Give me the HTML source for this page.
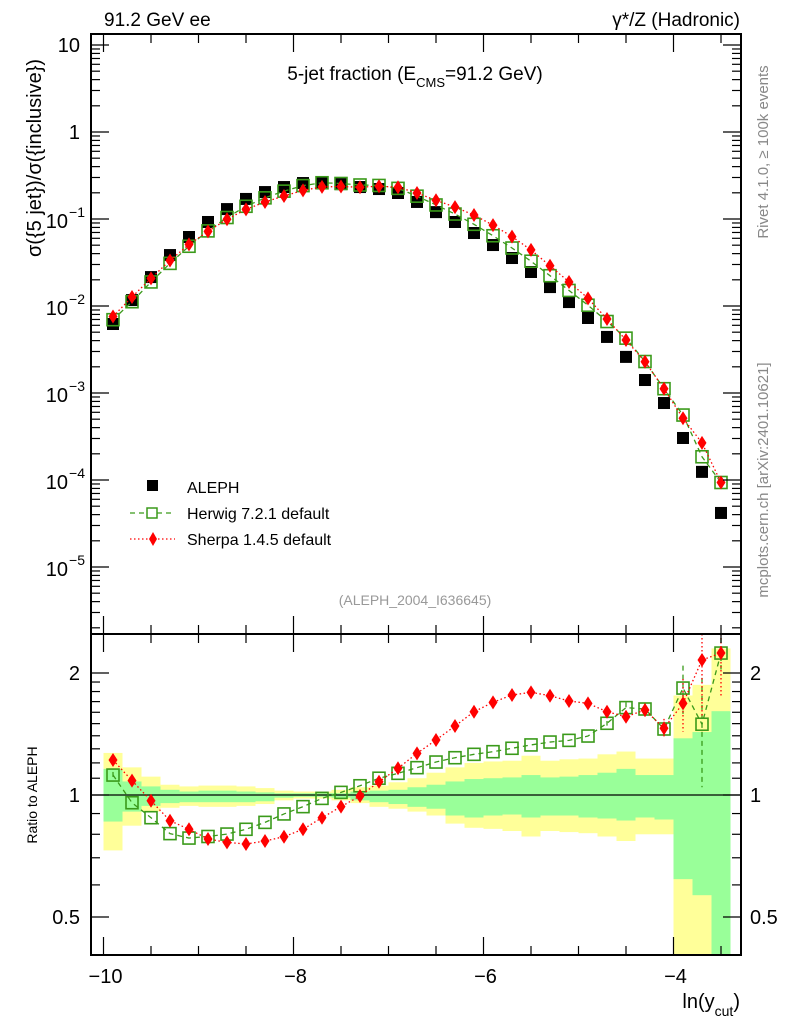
<!DOCTYPE html>
<html><head><meta charset="utf-8"><style>
body{margin:0;background:#fff}
svg{display:block;font-family:"Liberation Sans",sans-serif}
</style></head><body>
<svg id="c" width="786" height="1024" viewBox="0 0 786 1024" xmlns="http://www.w3.org/2000/svg">
<g id="bands"></g>
<g id="marks"></g>
<g id="axes"></g>
<text x="104" y="26" font-size="19">91.2 GeV ee</text>
<text x="740" y="26" font-size="19" text-anchor="end">γ*/Z (Hadronic)</text>
<text x="415" y="80" font-size="19" text-anchor="middle">5-jet fraction (E<tspan font-size="13" dy="7">CMS</tspan><tspan dy="-7">=91.2 GeV)</tspan></text>
<text transform="translate(41,158) rotate(-90)" font-size="20" text-anchor="middle">σ({5 jet})/σ({inclusive})</text>
<text transform="translate(37,795) rotate(-90)" font-size="14" text-anchor="middle">Ratio to ALEPH</text>
<text x="740" y="1008" font-size="20" text-anchor="end">ln(y<tspan font-size="14" dy="8">cut</tspan><tspan dy="-8">)</tspan></text>
<text transform="translate(768,152) rotate(-90)" font-size="15" fill="#888" text-anchor="middle">Rivet 4.1.0, ≥ 100k events</text>
<text transform="translate(768,480) rotate(-90)" font-size="15" fill="#888" text-anchor="middle">mcplots.cern.ch [arXiv:2401.10621]</text>
<text x="415" y="605" font-size="14" fill="#999" text-anchor="middle">(ALEPH_2004_I636645)</text>
<g>
<rect x="147" y="480" width="11" height="11" fill="#000"/>
<text x="187" y="493" font-size="16">ALEPH</text>
<line x1="130" y1="513" x2="175" y2="513" stroke="#3a9a1a" stroke-width="1.3" stroke-dasharray="5,4"/>
<rect x="147" y="508" width="10" height="10" fill="#fff" stroke="#3a9a1a" stroke-width="1.5"/>
<text x="187" y="519" font-size="16">Herwig 7.2.1 default</text>
<line x1="130" y1="539" x2="175" y2="539" stroke="#f00" stroke-width="1.3" stroke-dasharray="1.5,2.5"/>
<path d="M153 532 L157 539 L153 546 L149 539 Z" fill="#f00"/>
<text x="187" y="545" font-size="16">Sherpa 1.4.5 default</text>
</g>
</svg>
<script>
const xCenters=[-9.9,-9.7,-9.5,-9.3,-9.1,-8.9,-8.7,-8.5,-8.3,-8.1,-7.9,-7.7,-7.5,-7.3,-7.1,-6.9,-6.7,-6.5,-6.3,-6.1,-5.9,-5.7,-5.5,-5.3,-5.1,-4.9,-4.7,-4.5,-4.3,-4.1,-3.9,-3.7,-3.5];
const alephVals=[0.00621,0.0117,0.0215,0.0385,0.0621,0.0924,0.130,0.170,0.204,0.233,0.259,0.266,0.252,0.233,0.221,0.199,0.157,0.120,0.0924,0.069,0.0502,0.0356,0.0246,0.0165,0.0111,0.00728,0.00441,0.00260,0.00141,0.000767,0.000304,0.000124,0.0000418];
const herwigVals=[0.00696,0.0112,0.0189,0.0309,0.0486,0.0730,0.104,0.140,0.175,0.209,0.242,0.261,0.256,0.246,0.243,0.225,0.183,0.145,0.114,0.0869,0.0642,0.0464,0.0327,0.0223,0.0151,0.0102,0.00663,0.00427,0.0023,0.00112,0.000558,0.000185,0.0000936];
const sherpaVals=[0.00758,0.0127,0.0208,0.0333,0.0511,0.0720,0.0993,0.129,0.157,0.184,0.213,0.234,0.236,0.232,0.238,0.232,0.199,0.164,0.137,0.111,0.085,0.0628,0.0441,0.029,0.0189,0.01225,0.00708,0.00406,0.00229,0.00112,0.000512,0.000267,0.0000936];
const herwigRatio=[1.12,0.957,0.879,0.803,0.783,0.79,0.801,0.823,0.856,0.898,0.936,0.981,1.015,1.054,1.10,1.131,1.168,1.206,1.236,1.26,1.279,1.304,1.329,1.351,1.364,1.398,1.503,1.643,1.63,1.455,1.836,1.495,2.24];
const sherpaRatio=[1.22,1.085,0.968,0.864,0.823,0.779,0.764,0.757,0.77,0.789,0.823,0.879,0.936,0.994,1.078,1.164,1.267,1.367,1.48,1.605,1.693,1.765,1.792,1.758,1.706,1.683,1.605,1.56,1.621,1.461,1.683,2.154,2.24];
const herwigRatioErr=[0.02,0,0,0,0,0,0,0,0,0,0,0,0,0,0,0,0,0,0,0,0,0,0,0,0,0,0.02,0.05,0.05,0.05,0.25,0.45,0.2];
const sherpaRatioErr=[0.03,0,0,0,0,0,0,0,0,0,0,0,0,0,0,0,0,0,0,0,0,0,0,0,0,0,0.02,0.05,0.06,0.08,0.25,0.6,0.5];
const yellowHi=[1.27,1.17,1.11,1.06,1.05,1.055,1.055,1.05,1.04,1.025,1.02,1.02,1.03,1.045,1.055,1.075,1.10,1.135,1.17,1.2,1.21,1.215,1.25,1.215,1.225,1.23,1.26,1.28,1.23,1.23,1.76,1.87,2.3];
const yellowLo=[0.73,0.84,0.91,0.93,0.94,0.935,0.935,0.94,0.95,0.97,0.98,0.98,0.97,0.955,0.935,0.925,0.91,0.89,0.85,0.83,0.825,0.815,0.79,0.815,0.81,0.805,0.79,0.77,0.8,0.8,0.3,0.3,0.3];
const greenHi=[1.16,1.08,1.05,1.03,1.02,1.025,1.025,1.02,1.015,1.01,1.01,1.01,1.01,1.02,1.025,1.03,1.045,1.06,1.08,1.095,1.10,1.105,1.12,1.105,1.11,1.12,1.135,1.16,1.12,1.12,1.38,1.43,1.61];
const greenLo=[0.86,0.91,0.94,0.955,0.96,0.96,0.96,0.96,0.965,0.985,0.99,0.99,0.985,0.97,0.96,0.95,0.935,0.925,0.89,0.88,0.89,0.895,0.88,0.89,0.89,0.88,0.875,0.865,0.88,0.87,0.62,0.566,0.3];
const binWidth=0.2;

const NS='http://www.w3.org/2000/svg';
const L=91,R=741,T=34,MB=634,B=955;
const X=v=>103.5+(v+10)*95;
const YM=v=>45+(1-Math.log10(v))*87;
const YR=v=>795-Math.log2(v)*122;
function mk(tag,attrs,parent){const e=document.createElementNS(NS,tag);for(const k in attrs)e.setAttribute(k,attrs[k]);parent.appendChild(e);return e;}
const bands=document.getElementById('bands'),marks=document.getElementById('marks'),axes=document.getElementById('axes');
const clipR=v=>Math.min(B,Math.max(MB,v));

// bands
xCenters.forEach((x,i)=>{
  const x0=X(x-binWidth/2),x1=Math.min(R,X(x+binWidth/2));
  const y=mk('rect',{x:x0,y:clipR(YR(yellowHi[i])),width:x1-x0,height:clipR(YR(yellowLo[i]))-clipR(YR(yellowHi[i])),fill:'#ffff99'},bands);
  
  
  const g=mk('rect',{x:x0,y:clipR(YR(greenHi[i])),width:x1-x0,height:clipR(YR(greenLo[i]))-clipR(YR(greenHi[i])),fill:'#99ff99'},bands);
  
  
});
// ratio=1 line
const one=mk('line',{x1:L,y1:YR(1),x2:R,y2:YR(1),stroke:'#000','stroke-width':1.3},marks);



function series(vals,ymap,color,dash,kind,errs,name){
  const pts=xCenters.map((x,i)=>[X(x),ymap(vals[i])]);
  const pl=mk('polyline',{points:pts.map(p=>p.join(',')).join(' '),fill:'none',stroke:color,'stroke-width':1.3,'stroke-dasharray':dash},marks);
  
  
  pts.forEach((p,i)=>{
    if(errs&&errs[i]>0){
      const eu=ymap(vals[i]+errs[i]),ed=ymap(Math.max(0.3,vals[i]-errs[i]));
      const el=mk('line',{x1:p[0],x2:p[0],y1:Math.max(MB,eu),y2:Math.min(B,ed),stroke:color,'stroke-width':1.3,'stroke-dasharray':dash},marks);
      
      
    }
    let m;
    if(kind==='sq') m=mk('rect',{x:p[0]-6,y:p[1]-6,width:12,height:12,fill:'none',stroke:color,'stroke-width':1.6},marks);
    else m=mk('path',{d:`M${p[0]} ${p[1]-7}L${p[0]+4.5} ${p[1]}L${p[0]} ${p[1]+7}L${p[0]-4.5} ${p[1]}Z`,fill:color},marks);
    
    
  });
}
// main data
xCenters.forEach((x,i)=>{
  const r=mk('rect',{x:X(x)-6,y:YM(alephVals[i])-6,width:12,height:12,fill:'#000'},marks);
  
  
});
series(herwigVals,YM,'#3a9a1a','5,4','sq',null,'herwig');
series(sherpaVals,YM,'#f00','1.5,2.5','di',null,'sherpa');
series(herwigRatio,YR,'#3a9a1a','5,4','sq',herwigRatioErr,'herwig-ratio');
series(sherpaRatio,YR,'#f00','1.5,2.5','di',sherpaRatioErr,'sherpa-ratio');

// frames
[[T,MB],[MB,B]].forEach(([a,b])=>{
  const f=mk('rect',{x:L,y:a,width:R-L,height:b-a,fill:'none',stroke:'#000','stroke-width':2},axes);
  
  
});
function tk(x1,y1,x2,y2){const t=mk('line',{x1,y1,x2,y2,stroke:'#000','stroke-width':1.2},axes);}
function lab(x,y,s,anchor,size){const t=mk('text',{x,y,'font-size':size||20,'text-anchor':anchor},axes);t.textContent=s;}
// x ticks
for(let v=-10;v<=-3.4;v+=0.5){
  const x=X(v),maj=Math.abs(v-Math.round(v/2)*2)<1e-6,len=maj?18:9;
  [[T,1],[MB,1],[MB,-1],[B,-1]].forEach(([y,d])=>tk(x,y,x,y+d*len));
}
const xTickLabels=['\u221210','\u22128','\u22126','\u22124'];
[-10,-8,-6,-4].forEach((v,i)=>lab(X(v)+2,983,xTickLabels[i],'middle',20));
// main log y ticks
for(let d=-6;d<=1;d++){for(let m=1;m<10;m++){const v=m*Math.pow(10,d),y=YM(v);if(y<T||y>MB)continue;const len=m===1?18:9;tk(L,y,L+len,y);tk(R,y,R-len,y);}}
const yMainVals=[10,1,0.1,0.01,0.001,0.0001,0.00001];
const yMainLabels=['10','1','10','10','10','10','10'];
const yMainExp=['','','\u22121','\u22122','\u22123','\u22124','\u22125'];
yMainVals.forEach((v,i)=>{
  const y=YM(v)+7;
  if(yMainExp[i]){lab(68,y+2,yMainLabels[i],'end',20);lab(85,y-9,yMainExp[i],'end',14);}
  else lab(80,y,yMainLabels[i],'end',20);
});
// ratio ticks
const rTicks=[0.4,0.5,0.6,0.7,0.8,0.9,1,1.1,1.2,1.3,1.4,1.5,1.6,1.7,1.8,1.9,2];
rTicks.forEach(v=>{const y=YR(v);if(y<MB||y>B)return;const maj=(v===0.5||v===1||v===2);const len=maj?18:9;tk(L,y,L+len,y);tk(R,y,R-len,y);});
const rLabVals=[0.5,1,2],rLabs=['0.5','1','2'];
rLabVals.forEach((v,i)=>{lab(80,YR(v)+7,rLabs[i],'end',20);lab(750,YR(v)+7,rLabs[i],'start',20);});
</script>
</body></html>
